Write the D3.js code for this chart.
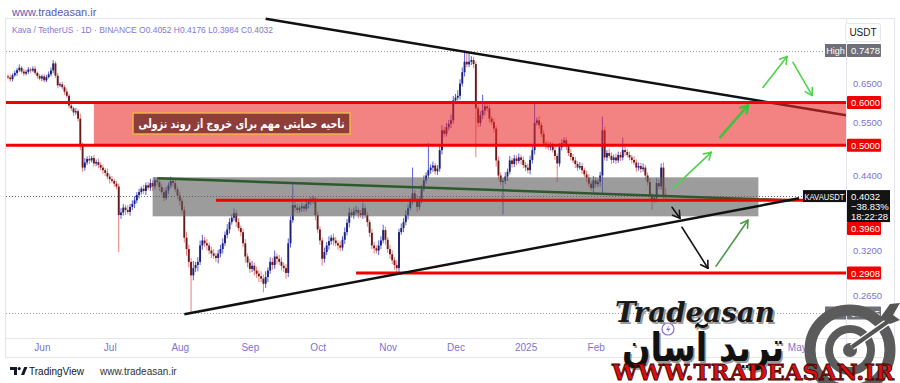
<!DOCTYPE html>
<html>
<head>
<meta charset="utf-8">
<script src="https://cdn.jsdelivr.net/npm/d3@7/dist/d3.min.js"></script>
<style>
html,body{margin:0;padding:0;background:#fff;}
svg{display:block;}
text{font-family:"Liberation Sans","DejaVu Sans",sans-serif;}
</style>
</head>
<body>
<svg id="chart" width="900" height="383"></svg>
<script>
// ================= DATA =================
const startDate = "2024-05-17";
const firstOpen = 0.670;
const closes = [
 0.667,0.662,0.673,0.680,0.688,0.695,0.684,0.678,0.683,0.690,
 0.687,0.692,0.680,0.671,0.664,0.670,0.659,0.668,0.676,0.687,
 0.708,0.672,0.645,0.648,0.640,0.628,0.617,0.592,0.585,0.575,
 0.578,0.560,0.500,0.455,0.465,0.472,0.469,0.474,0.463,0.466,
 0.460,0.455,0.450,0.445,0.438,0.433,0.430,0.425,0.420,0.372,
 0.376,0.384,0.380,0.377,0.385,0.390,0.396,0.405,0.410,0.416,
 0.412,0.422,0.418,0.426,0.420,0.431,0.428,0.419,0.410,0.400,
 0.413,0.422,0.430,0.426,0.415,0.404,0.395,0.380,0.338,0.322,
 0.305,0.288,0.297,0.301,0.305,0.327,0.334,0.330,0.327,0.320,
 0.316,0.313,0.310,0.316,0.322,0.330,0.342,0.350,0.361,0.368,
 0.375,0.361,0.352,0.346,0.330,0.312,0.304,0.296,0.300,0.294,
 0.290,0.287,0.284,0.278,0.286,0.294,0.305,0.301,0.312,0.309,
 0.305,0.300,0.297,0.291,0.330,0.364,0.388,0.384,0.380,0.383,
 0.386,0.382,0.390,0.393,0.396,0.399,0.372,0.350,0.334,0.309,
 0.318,0.327,0.333,0.338,0.334,0.330,0.327,0.324,0.335,0.346,
 0.360,0.376,0.372,0.378,0.380,0.375,0.372,0.383,0.372,0.361,
 0.345,0.327,0.323,0.320,0.327,0.334,0.349,0.335,0.322,0.315,
 0.307,0.301,0.297,0.346,0.352,0.361,0.372,0.383,0.395,0.408,
 0.398,0.385,0.398,0.415,0.431,0.440,0.450,0.455,0.459,0.448,
 0.453,0.490,0.533,0.525,0.540,0.548,0.556,0.605,0.612,0.617,
 0.650,0.682,0.713,0.705,0.713,0.718,0.706,0.585,0.550,0.568,
 0.580,0.590,0.585,0.560,0.552,0.537,0.469,0.440,0.428,0.430,
 0.438,0.447,0.469,0.462,0.473,0.468,0.475,0.470,0.460,0.455,
 0.450,0.470,0.490,0.550,0.556,0.545,0.525,0.504,0.500,0.496,
 0.500,0.490,0.478,0.463,0.496,0.505,0.511,0.498,0.484,0.476,
 0.469,0.462,0.455,0.458,0.450,0.442,0.436,0.425,0.417,0.431,
 0.424,0.428,0.440,0.533,0.475,0.484,0.478,0.470,0.475,0.469,
 0.480,0.475,0.490,0.486,0.480,0.475,0.470,0.465,0.455,0.458,
 0.452,0.455,0.440,0.428,0.404,0.398,0.400,0.426,0.420,0.455,
 0.4052,0.4032];
// wick lengths beyond the body, in thousandths of USDT
const upperWicks = [
 6,8,5,7,6,10,5,8,6,7, 5,7,8,4,6,5,7,6,8,9, 10,6,8,5,7,6,9,5,6,4, 8,5,12,6,9,5,7,4,6,5,
 7,5,6,4,8,5,6,4,5,5, 7,6,4,8,5,6,7,5,6,4, 7,5,6,8,5,6,4,7,5,8, 6,5,8,4,6,5,7,5,6,8,
 6,5,9,4,6,7,8,5,6,4, 5,6,4,5,6,7,5,8,6,5, 8,5,6,4,5,6,4,5,6,4, 5,4,6,5,7,4,6,5,8,4,
 5,6,4,5,7,6,37,5,6,4, 6,4,7,5,6,5,4,6,5,4, 6,5,7,4,6,5,4,6,5,7, 6,8,5,6,7,4,5,9,6,5,
 4,6,5,4,7,6,8,5,4,6, 5,4,6,5,7,6,8,6,5,47, 6,7,5,8,9,6,55,6,8,5, 7,9,12,8,10,9,14,12,10,15,
 12,14,35,30,25,12,10,8,6,10, 40,8,10,9,6,8,7,8,6,5, 8,6,9,5,7,6,8,5,7,6, 8,9,8,50,7,10,6,8,6,9,
 7,6,8,5,9,8,6,7,5,8, 6,7,5,8,6,5,7,6,5,8, 6,5,7,32,8,6,9,7,6,8, 7,6,27,8,6,7,5,8,6,7,
 6,8,5,6,7,5,6,9,7,8, 10,12.4];
const lowerWicks = [
 5,7,6,4,8,5,6,7,5,6, 7,5,6,8,5,7,6,5,4,6, 8,6,7,5,6,8,5,7,6,8, 6,7,10,8,6,5,7,4,6,5,
 6,5,7,6,5,8,4,6,5,54, 6,5,8,4,6,5,7,5,6,4, 5,7,4,6,8,5,6,7,5,6, 4,6,5,7,5,6,8,6,7,9,
 7,43,6,5,8,4,6,5,7,5, 6,4,5,7,5,6,4,5,6,4, 5,7,4,6,5,8,6,5,4,6, 5,7,4,10,5,6,4,6,5,7,
 4,6,5,7,5,6,4,6,5,4, 6,5,4,7,5,6,8,5,6,9, 5,4,6,5,7,4,6,5,4,6, 5,7,4,6,5,8,4,6,5,7,
 6,5,7,4,6,5,4,7,5,6, 5,6,7,5,4,6,5,7,4,6, 6,8,5,7,4,6,5,7,8,6, 7,6,9,8,6,7,10,8,9,7,
 10,8,12,9,8,10,12,110,10,8, 9,12,8,10,7,9,12,8,6,55, 6,8,5,7,6,8,5,9,6,7, 6,8,7,9,6,8,7,5,8,6,
 7,5,8,35,6,7,5,8,6,7, 5,8,6,4,7,5,8,6,5,7, 6,5,8,35,6,7,5,8,6,7, 5,7,6,8,5,6,7,5,8,6,
 7,5,8,6,5,18,6,7,5,6, 6,4.8];
const lastBar = {o:0.4052, h:0.4176, l:0.3984, c:0.4032, change:"-38.83%", countdown:"18:22:28"};
const highPrice = 0.7478, lowPrice = 0.2455;
const priceTicks = [0.65, 0.55, 0.44, 0.32, 0.265];
// month labels visible on the time axis (Mar / Apr sit behind the watermark)
const monthLabels = ["Jun","Jul","Aug","Sep","Oct","Nov","Dec","2025","Feb","May"];
const monthDates = ["2024-06-01","2024-07-01","2024-08-01","2024-09-01","2024-10-01","2024-11-01",
 "2024-12-01","2025-01-01","2025-02-01","2025-05-01"];
// drawings (time, price anchors)
const levelPrices = [0.6, 0.5, 0.396, 0.2908];
const levelStarts = ["2024-05-16","2024-05-16","2024-08-17","2024-10-18"];
const zoneStart = "2024-06-24";
const boxDates = ["2024-07-20","2025-04-14"];
const boxPrices = [0.4366, 0.370];
const upperTrend = [["2024-09-08",0.856],["2025-05-23",0.568]];
const lowerTrend = [["2024-08-03",0.2443],["2025-05-02",0.3994]];
const greenTrend = [["2024-07-22",0.4348],["2025-04-28",0.396]];
// arrows: [day index from start, price]
const greenArrows = [
 [[294.2,0.4167],[311.1,0.4854]],
 [[315.0,0.5173],[327.4,0.5924]],
 [[334.0,0.6394],[344.7,0.729]],
 [[347.3,0.7108],[355.8,0.618]]];
const darkGreenArrows = [[[313.3,0.2995],[327.4,0.3639]]];
const blackArrows = [
 [[293.8,0.3845],[297.3,0.367]],
 [[298.2,0.3532],[309.7,0.2969]]];
const noteText = "ناحیه حمایتی مهم برای خروج از روند نزولی";

// ================= SCALES =================
const parse = d3.utcParse("%Y-%m-%d");
const t0 = parse(startDate);
const dayOf = s => d3.utcDay.count(t0, parse(s));
const L = 6, R = 846, T = 19, B = 338;
const x = d3.scaleLinear().domain([0, closes.length - 1]).range([8, 665.7]);
const y = d3.scaleLog().domain([lowPrice, highPrice]).range([313, 50.5]);

const svg = d3.select("#chart");
svg.append("rect").attr("width",900).attr("height",383).attr("fill","#fff");
const defs = svg.append("defs");
defs.append("clipPath").attr("id","plot").append("rect").attr("x",L).attr("y",0).attr("width",R-L).attr("height",B);

// frame
svg.append("rect").attr("x",L-0.5).attr("y",T-0.5).attr("width",889).attr("height",339)
  .attr("fill","none").attr("stroke","#e3e5ec");
svg.append("line").attr("x1",L).attr("x2",895).attr("y1",B+0.5).attr("y2",B+0.5).attr("stroke","#e3e5ec");
svg.append("line").attr("x1",R+0.5).attr("x2",R+0.5).attr("y1",T).attr("y2",358).attr("stroke","#e3e5ec");

const plot = svg.append("g").attr("clip-path","url(#plot)");

// dotted reference lines
[[highPrice,"#9a9a9a",825],[lowPrice,"#9a9a9a",825],[lastBar.c,"#666",803]].forEach(([p,c,e])=>{
  plot.append("line").attr("x1",L).attr("x2",e).attr("y1",Math.round(y(p))+0.5).attr("y2",Math.round(y(p))+0.5)
    .attr("stroke",c).attr("stroke-width",1).attr("stroke-dasharray","1,2");
});

// candles
const candles = closes.map((c,i)=>{
  const o = i===0 ? firstOpen : closes[i-1];
  return {i, o, c, h: Math.max(o,c)+upperWicks[i]/1000, l: Math.min(o,c)-lowerWicks[i]/1000};
});
const cg = plot.append("g");
cg.selectAll("line").data(candles).join("line")
  .attr("x1",d=>x(d.i)).attr("x2",d=>x(d.i)).attr("y1",d=>y(d.h)).attr("y2",d=>y(d.l))
  .attr("stroke",d=>d.c>=d.o?"#5560e6":"#ec7d7d").attr("stroke-width",1);
cg.selectAll("rect").data(candles).join("rect")
  .attr("x",d=>x(d.i)-0.95).attr("width",1.9)
  .attr("y",d=>y(Math.max(d.o,d.c)))
  .attr("height",d=>Math.max(1,y(Math.min(d.o,d.c))-y(Math.max(d.o,d.c))))
  .attr("fill",d=>d.c>=d.o?"#1d2170":"#6a1a1a");

const pt = a => [x(typeof a[0]==="string"?dayOf(a[0]):a[0]), y(a[1])];

function drawLine(a,b,color,w){
  const [x1,y1]=pt(a),[x2,y2]=pt(b);
  plot.append("line").attr("x1",x1).attr("y1",y1).attr("x2",x2).attr("y2",y2)
    .attr("stroke",color).attr("stroke-width",w);
}
// upper black trend (under zone)
drawLine(upperTrend[0],upperTrend[1],"#111",2.5);
// pink zone
plot.append("rect").attr("x",x(dayOf(zoneStart))).attr("width",R-x(dayOf(zoneStart)))
  .attr("y",y(levelPrices[0])).attr("height",y(levelPrices[1])-y(levelPrices[0]))
  .attr("fill","rgb(235,40,40)").attr("fill-opacity",0.58);
// gray box
plot.append("rect").attr("x",x(dayOf(boxDates[0]))).attr("width",x(dayOf(boxDates[1]))-x(dayOf(boxDates[0])))
  .attr("y",y(boxPrices[0])).attr("height",y(boxPrices[1])-y(boxPrices[0]))
  .attr("fill","rgb(95,95,95)").attr("fill-opacity",0.62);
// green trend
drawLine(greenTrend[0],greenTrend[1],"#2d5a2d",2.5);
// red levels
levelPrices.forEach((p,k)=>{
  plot.append("line").attr("x1",x(dayOf(levelStarts[k]))).attr("x2",R)
    .attr("y1",y(p)).attr("y2",y(p)).attr("stroke","#f20000").attr("stroke-width",3);
});
// lower black trend
drawLine(lowerTrend[0],lowerTrend[1],"#111",2.5);
// arrows
function drawArrow(seg,color,w){
  const [x1,y1]=pt(seg[0]),[x2,y2]=pt(seg[1]);
  const g = plot.append("g").attr("stroke",color).attr("stroke-width",w).attr("fill","none").attr("stroke-linecap","round");
  g.append("line").attr("x1",x1).attr("y1",y1).attr("x2",x2).attr("y2",y2);
  const ang=Math.atan2(y2-y1,x2-x1), hl=8;
  [-0.55,0.55].forEach(da=>{
    g.append("line").attr("x1",x2).attr("y1",y2)
      .attr("x2",x2-hl*Math.cos(ang+da)).attr("y2",y2-hl*Math.sin(ang+da));
  });
}
greenArrows.forEach((s,k)=>drawArrow(s, k===1?"#3cc43c":"#4fd34f", k===1?2.5:1.6));
darkGreenArrows.forEach(s=>drawArrow(s,"#4a9a4a",1.6));
blackArrows.forEach(s=>drawArrow(s,"#151515",1.6));

// note box
const note = svg.append("g");
note.append("rect").attr("x",133).attr("y",113).attr("width",217).attr("height",21)
  .attr("fill","#8e3d3d").attr("stroke","#f0b244").attr("stroke-width",1.5);
note.append("text").attr("x",241.5).attr("y",128).attr("text-anchor","middle")
  .attr("fill","#fff").attr("font-size",12.5).attr("font-weight","bold")
  .style("font-family","'DejaVu Sans',sans-serif").attr("direction","rtl")
  .attr("textLength",206).attr("lengthAdjust","spacingAndGlyphs").text(noteText);

// ================= AXES =================
const ya = svg.append("g").attr("transform",`translate(${R},0)`)
  .call(d3.axisRight(y).tickValues(priceTicks).tickFormat(d3.format(".4f")).tickSize(0).tickPadding(7));
ya.select(".domain").remove();
ya.selectAll("text").attr("fill","#7d73d2").attr("font-size",9.5).style("font-family","'Liberation Sans',sans-serif");

const xa = svg.append("g").attr("transform",`translate(0,${B})`)
  .call(d3.axisBottom(x).tickValues(monthDates.map(dayOf)).tickFormat((d,i)=>monthLabels[i]).tickSize(0).tickPadding(6));
xa.select(".domain").remove();
xa.selectAll("text").attr("fill","#7d73d2").attr("font-size",10).style("font-family","'Liberation Sans',sans-serif");

// price labels
function priceLabel(cy, txt, fill){
  svg.append("rect").attr("x",R+1).attr("y",cy-6.5).attr("width",34).attr("height",13).attr("fill",fill).attr("rx",1);
  svg.append("text").attr("x",R+5).attr("y",cy+3.5).attr("fill","#fff").attr("font-size",9.5).text(txt);
}
// High
svg.append("rect").attr("x",825).attr("y",y(highPrice)-6.5).attr("width",21).attr("height",13).attr("fill","#6d7079");
svg.append("text").attr("x",835.5).attr("y",y(highPrice)+3.5).attr("text-anchor","middle").attr("fill","#fff").attr("font-size",9).text("High");
priceLabel(y(highPrice),"0.7478","#6d7079");
// Low
svg.append("rect").attr("x",825).attr("y",y(lowPrice)-6.5).attr("width",21).attr("height",13).attr("fill","#6d7079");
priceLabel(y(lowPrice),"0.2455","#6d7079");
// current price
const cy = y(lastBar.c);
svg.append("rect").attr("x",803).attr("y",cy-6).attr("width",43).attr("height",12).attr("fill","#131313");
svg.append("text").attr("x",824.5).attr("y",cy+3.5).attr("text-anchor","middle").attr("fill","#fff").attr("font-size",9)
  .attr("textLength",40).attr("lengthAdjust","spacingAndGlyphs").text("KAVAUSDT");
svg.append("rect").attr("x",R+1).attr("y",cy-6).attr("width",43).attr("height",32).attr("fill","#131313");
[d3.format(".4f")(lastBar.c), lastBar.change.replace("-","\u2212"), lastBar.countdown].forEach((t,k)=>{
  svg.append("text").attr("x",R+5).attr("y",cy+3.5+k*10).attr("fill","#fff").attr("font-size",9.5).text(t);
});
const curBottom = cy + 26;
levelPrices.forEach(p=>{
  let ly = y(p);
  if (ly > cy-13 && ly < curBottom+6.5) ly = curBottom + 6.5;
  priceLabel(ly, d3.format(".4f")(p), "#f20000");
});
// currency box
svg.append("rect").attr("x",845.5).attr("y",23.5).attr("width",35).attr("height",18).attr("rx",2)
  .attr("fill","#fff").attr("stroke","#e3e5ec");
svg.append("text").attr("x",863).attr("y",36).attr("text-anchor","middle").attr("fill","#131722").attr("font-size",10).text("USDT");

// ================= HEADER =================
svg.append("text").attr("x",12).attr("y",16).attr("fill","#5a58b4").attr("font-size",11).text("www.tradeasan.ir");
const fmt = d3.format(".4f");
svg.append("text").attr("x",12).attr("y",32.5).attr("fill","#8378d6").attr("font-size",9.5)
  .attr("textLength",261).attr("lengthAdjust","spacingAndGlyphs")
  .text(`Kava / TetherUS · 1D · BINANCE  O${fmt(lastBar.o)}  H${fmt(lastBar.h)}  L${fmt(lastBar.l)}  C${fmt(lastBar.c)}`);

// ================= FOOTER =================
svg.append("path").attr("d","M10 367 h7 v8 h-3 v-5 h-4z M21 375 l3.2 -8 h3.2 l-3.2 8z").attr("fill","#131722");
svg.append("circle").attr("cx",19.2).attr("cy",368.6).attr("r",1.6).attr("fill","#131722");
svg.append("text").attr("x",29).attr("y",374.5).attr("fill","#131722").attr("font-size",10).text("TradingView");
svg.append("text").attr("x",100).attr("y",374.5).attr("fill","#333").attr("font-size",10).text("www.tradeasan.ir");

// ================= LOGO (watermark) =================
const logo = svg.append("g");
// target
logo.append("circle").attr("cx",850).attr("cy",350).attr("r",40).attr("fill","none").attr("stroke","#5b5b5b").attr("stroke-width",11);
logo.append("circle").attr("cx",850).attr("cy",350).attr("r",21).attr("fill","none").attr("stroke","#5b5b5b").attr("stroke-width",8);
logo.append("circle").attr("cx",850).attr("cy",350).attr("r",7).attr("fill","#5b5b5b");
logo.append("line").attr("x1",852).attr("y1",347).attr("x2",893).attr("y2",318).attr("stroke","#fff").attr("stroke-width",7);
logo.append("line").attr("x1",852).attr("y1",347).attr("x2",893).attr("y2",318).attr("stroke","#555").attr("stroke-width",4);
logo.append("path").attr("d","M880 318 L890 304 L900 303 L893 315 L900 320 L890 324 Z").attr("fill","#555");
// lightning marker
logo.append("circle").attr("cx",668).attr("cy",329).attr("r",6).attr("fill","#fff").attr("stroke","#8c72d0").attr("stroke-width",1.2);
logo.append("path").attr("d","M669.5 325 L666 330 L668.5 330 L667 333.5 L670.5 328.5 L668 328.5 Z").attr("fill","#8c72d0");
// Tradeasan script
[["#9a9a9a",2],["#1a1a1a",0]].forEach(([c,o])=>{
  logo.append("text").attr("x",615+o).attr("y",322+o).attr("fill",c).attr("font-size",27)
    .attr("font-style","italic").attr("font-weight","bold").style("font-family","'DejaVu Serif',serif")
    .attr("textLength",160).attr("lengthAdjust","spacingAndGlyphs").text("Tradeasan");
});
[["#9a9a9a",1.5],["#111",0]].forEach(([c,o])=>{
  logo.append("text").attr("x",703+o).attr("y",361+o).attr("text-anchor","middle").attr("fill",c).attr("font-size",40)
    .attr("font-weight","bold").style("font-family","'DejaVu Sans',sans-serif")
    .attr("textLength",162).attr("lengthAdjust","spacingAndGlyphs").text("ترید آسان");
});
logo.append("text").attr("x",612).attr("y",380).attr("fill","#d81010").attr("stroke","#3a0000").attr("stroke-width",0.8)
  .attr("font-size",22).attr("font-weight","bold").style("font-family","'DejaVu Serif',serif")
  .attr("textLength",282).attr("lengthAdjust","spacingAndGlyphs").text("WWW.TRADEASAN.IR");
</script>
</body>
</html>
